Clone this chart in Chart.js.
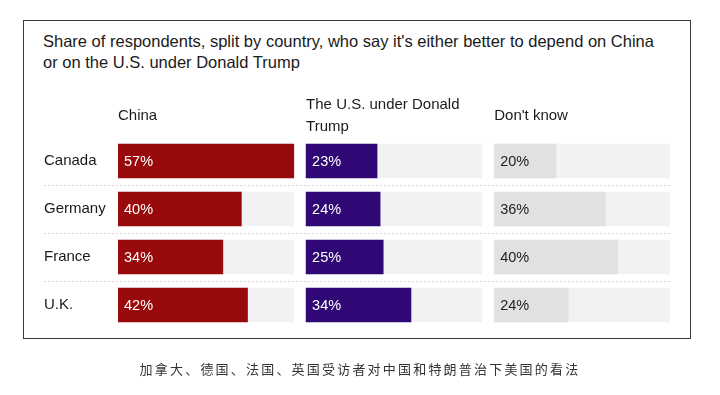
<!DOCTYPE html>
<html>
<head>
<meta charset="utf-8">
<script src="https://cdn.jsdelivr.net/npm/chart.js@4"></script>
<style>
  html, body { margin: 0; padding: 0; background: #fff; }
  body { width: 720px; height: 395px; position: relative; overflow: hidden; font-family: "Liberation Sans", Arial, sans-serif; }
  #frame { position: absolute; left: 23px; top: 20px; width: 666px; height: 317px; border: 1px solid #3a3a3a; }
  #title { position: absolute; left: 43px; top: 31px; font-size: 16.5px; line-height: 21px; color: #1a1a1a; }
  #caption { position: absolute; left: 0; width: 720px; top: 359px; text-align: center; font-family: "Noto Sans CJK SC", serif; font-size: 13px; letter-spacing: 2.2px; color: #333; }
  canvas { position: absolute; left: 0; top: 0; }
</style>
</head>
<body>
<div id="frame"></div>
<div id="title">Share of respondents, split by country, who say it's either better to depend on China<br>or on the U.S. under Donald Trump</div>
<canvas id="chart" width="720" height="395"></canvas>
<div id="caption">加拿大、德国、法国、英国受访者对中国和特朗普治下美国的看法</div>
<script>
// Data
const countries = ["Canada", "Germany", "France", "U.K."]
const chinaValues = [57, 40, 34, 42]
const usValues = [23, 24, 25, 34]
const dontKnowValues = [20, 36, 40, 24]
const columnHeaders = [["China"], ["The U.S. under Donald", "Trump"], ["Don't know"]]

// each column is a small bar track of the same length (largest value)
const TRACK_MAX = 57
const COLUMN_STEP = 61

const columns = [
  { values: chinaValues, color: "#990a0c", text: "#ffffff" },
  { values: usValues, color: "#2f0876", text: "#ffffff" },
  { values: dontKnowValues, color: "#e1e1e3", text: "#222222" },
]

const datasets = []
columns.forEach((col, i) => {
  const off = i * COLUMN_STEP
  datasets.push({
    data: col.values.map((v) => [off, off + v]),
    backgroundColor: col.color,
    barThickness: 34,
    order: 0,
    textColor: col.text,
    isValue: true,
    raw: col.values,
  })
})
columns.forEach((col, i) => {
  const off = i * COLUMN_STEP
  datasets.push({
    data: col.values.map(() => [off, off + TRACK_MAX]),
    backgroundColor: "#f2f2f4",
    barThickness: 34,
    order: 1,
  })
})

const extrasPlugin = {
  id: "extras",
  beforeDatasetsDraw(chart) {
    const { ctx, scales } = chart
    const y = scales.y
    ctx.save()
    ctx.strokeStyle = "#d8d8d8"
    ctx.lineWidth = 1
    ctx.setLineDash([2, 2])
    for (let i = 0; i < countries.length - 1; i++) {
      const yy = Math.round((y.getPixelForValue(i) + y.getPixelForValue(i + 1)) / 2) + 0.5
      ctx.beginPath()
      ctx.moveTo(44, yy)
      ctx.lineTo(chart.chartArea.right, yy)
      ctx.stroke()
    }
    ctx.restore()
  },
  afterDatasetsDraw(chart) {
    const { ctx, scales } = chart
    ctx.save()
    ctx.font = "14.5px 'Liberation Sans', Arial, sans-serif"
    ctx.textBaseline = "middle"
    ctx.textAlign = "left"
    chart.data.datasets.forEach((ds, di) => {
      if (!ds.isValue) return
      const meta = chart.getDatasetMeta(di)
      meta.data.forEach((bar, i) => {
        ctx.fillStyle = ds.textColor
        ctx.fillText(ds.raw[i] + "%", bar.base + 6, bar.y + 1)
      })
    })
    // column headers
    ctx.fillStyle = "#1a1a1a"
    ctx.font = "15px 'Liberation Sans', Arial, sans-serif"
    columnHeaders.forEach((lines, i) => {
      const x = scales.x.getPixelForValue(i * COLUMN_STEP)
      const top = 116 - ((lines.length - 1) * 22) / 2
      lines.forEach((line, li) => ctx.fillText(line, x, top + li * 22))
    })
    ctx.restore()
  },
}

new Chart(document.getElementById("chart"), {
  type: "bar",
  data: { labels: countries, datasets: datasets },
  options: {
    indexAxis: "y",
    responsive: false,
    animation: false,
    datasets: { bar: { grouped: false } },
    layout: { padding: { left: 44, right: 50, top: 137, bottom: 66 } },
    plugins: { legend: { display: false }, tooltip: { enabled: false } },
    scales: {
      x: { display: false, min: 0, max: 2 * COLUMN_STEP + TRACK_MAX },
      y: {
        grid: { display: false },
        border: { display: false },
        afterFit: (scale) => { scale.width = 74 },
        ticks: {
          crossAlign: "far",
          color: "#1a1a1a",
          font: { family: "'Liberation Sans', Arial, sans-serif", size: 15 },
        },
      },
    },
  },
  plugins: [extrasPlugin],
})
</script>
</body>
</html>
